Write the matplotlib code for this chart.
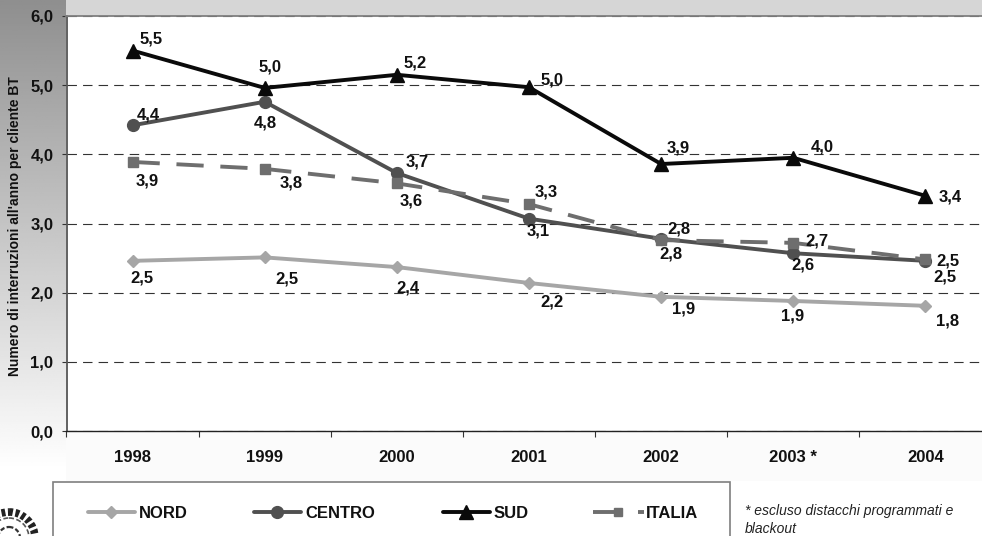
import numpy as np
import matplotlib
matplotlib.use("Agg")
import matplotlib.pyplot as plt
from matplotlib.patches import Rectangle, Circle

years = ["1998", "1999", "2000", "2001", "2002", "2003 *", "2004"]
nord = [2.46, 2.51, 2.37, 2.14, 1.94, 1.88, 1.81]
centro = [4.42, 4.76, 3.73, 3.07, 2.78, 2.57, 2.46]
sud = [5.50, 4.96, 5.15, 4.97, 3.86, 3.95, 3.40]
italia = [3.89, 3.79, 3.58, 3.28, 2.76, 2.72, 2.48]
nord_lab = ["2,5", "2,5", "2,4", "2,2", "1,9", "1,9", "1,8"]
centro_lab = ["4,4", "4,8", "3,7", "3,1", "2,8", "2,6", "2,5"]
sud_lab = ["5,5", "5,0", "5,2", "5,0", "3,9", "4,0", "3,4"]
italia_lab = ["3,9", "3,8", "3,6", "3,3", "2,8", "2,7", "2,5"]
nord_off = [(9, -17), (22, -22), (11, -21), (23, -19), (22, -12), (-1, -15), (22, -15)]
centro_off = [(16, 10), (1, -21), (20, 11), (9, -12), (18, 10), (10, -12), (23, 0)]
sud_off = [(19, 12), (5, 21), (18, 12), (23, 7), (17, 16), (29, 11), (25, -1)]
italia_off = [(15, -19), (26, -14), (14, -18), (17, 12), (10, -14), (24, 2), (20, -18)]

W, H = 982, 536
INK = "#111111"
plt.rcParams["font.family"] = ["Liberation Sans", "DejaVu Sans"]
plt.rcParams["font.weight"] = "bold"
fig = plt.figure(figsize=(W / 100, H / 100), dpi=100, facecolor="white")

bg = fig.add_axes([0, 0, 1, 1], zorder=0)
grad = np.clip(np.linspace(0, 536 / 470, 256), 0, 1).reshape(-1, 1)
bg.imshow(0.56 + 0.44 * grad, cmap="gray", vmin=0, vmax=1,
          extent=[0, 66, H, 0], aspect="auto")
bg.set_xlim(0, W)
bg.set_ylim(H, 0)
bg.axis("off")
bg.add_patch(Rectangle((66, 0), W - 66, 16, fc="#d6d6d6", ec="none"))
bg.add_patch(Rectangle((66, 431), W - 66, 50, fc="#fbfbfb", ec="none"))
bg.add_patch(Rectangle((0, 481), 53, 55, fc="white", ec="none"))
bg.add_patch(Rectangle((53.5, 481.5), 677, 60, fc="white", ec="#7f7f7f", lw=1.2))
bg.add_patch(Circle((9, 538), 26, fc="none", ec="#222222", lw=5.5, ls=(0, (0.5, 0.35))))
bg.add_patch(Circle((9, 538), 20, fc="none", ec="#555555", lw=1.2, ls=(0, (3, 1.5))))
bg.add_patch(Circle((9, 538), 11, fc="none", ec="#333333", lw=1.6, ls=(0, (2, 1))))

ax = fig.add_axes([66.5 / W, 1 - 431 / H, 925 / W, 415 / H], zorder=1)
ax.set_facecolor("white")
x = np.arange(7)
ax.set_xlim(-0.5, 6.5)
ax.set_ylim(0, 6)
ax.set_yticks(np.arange(0, 7))
ax.set_yticklabels([f"{v},0" for v in range(7)], fontsize=12, fontweight="bold", color=INK)
ax.set_xticks(np.arange(-0.5, 7, 1))
ax.set_xticklabels([])
ax.set_xticks(x, minor=True)
ax.set_xticklabels(years, minor=True, fontsize=12, fontweight="bold", color=INK)
ax.tick_params(axis="x", which="major", length=4.3, width=0.8, color="#333333")
ax.tick_params(axis="x", which="minor", length=0, pad=13.5)
ax.tick_params(axis="y", length=3.6, width=0.8, color="#333333", pad=5.8)
ax.yaxis.grid(True, color="#333333", lw=0.8, ls=(0, (8.5, 5.5)))
ax.set_axisbelow(True)
for s in ("top", "right"):
    ax.spines[s].set_visible(False)
ax.spines["left"].set_color("#555555")
ax.spines["left"].set_linewidth(1.3)
ax.spines["bottom"].set_color("#222222")
ax.spines["bottom"].set_linewidth(1)
ax.plot([-0.5, 6.5], [6, 6], color="#7f7f7f", lw=1.3, clip_on=False, zorder=3)

series = [
    (nord, nord_lab, nord_off, dict(color="#a6a6a6", lw=2.8, marker="D", ms=6.5, ls="-")),
    (centro, centro_lab, centro_off, dict(color="#505050", lw=2.8, marker="o", ms=8.5, ls="-")),
    (sud, sud_lab, sud_off, dict(color="#0a0a0a", lw=2.8, marker="^", ms=10, ls="-")),
    (italia, italia_lab, italia_off, dict(color="#6e6e6e", lw=2.8, marker="s", ms=7, ls=(0, (7, 4.3)))),
]
for vals, labs, offs, st in series:
    ax.plot(x, vals, **st, clip_on=False, dash_capstyle="butt")
for vals, labs, offs, st in series:
    for xi, v, lab, off in zip(x, vals, labs, offs):
        ax.annotate(lab, (xi, v), xytext=(off[0] * 0.72, off[1] * 0.72), textcoords="offset points",
                    ha="center", va="center", fontsize=12, fontweight="bold", color=INK, zorder=6)

fig.text(15 / W, 1 - 226 / H, "Numero di interruzioni all'anno per cliente BT", rotation=90,
         ha="center", va="center", fontsize=10, fontweight="bold", color=INK)

for x0, x1, tx, label, col, mk, ms in [
    (88, 135, 139, "NORD", "#a6a6a6", "D", 6.5),
    (254, 301, 305, "CENTRO", "#505050", "o", 8.5),
    (443, 490, 494, "SUD", "#0a0a0a", "^", 10),
]:
    bg.plot([x0, x1], [512, 512], color=col, lw=2.8, solid_capstyle="round")
    bg.plot([(x0 + x1) / 2], [512], color=col, marker=mk, ms=ms)
    bg.text(tx, 513, label, ha="left", va="center", fontsize=12, fontweight="bold", color=INK)
bg.plot([593, 622], [511.5, 511.5], color="#6e6e6e", lw=2.8, solid_capstyle="butt")
bg.plot([618], [511.5], color="#6e6e6e", marker="s", ms=6)
bg.plot([638, 644], [511.5, 511.5], color="#6e6e6e", lw=2.8, solid_capstyle="butt")
bg.text(646, 513, "ITALIA", ha="left", va="center", fontsize=12, fontweight="bold", color=INK)
bg.set_xlim(0, W)
bg.set_ylim(H, 0)

fig.text(745 / W, 1 - 511 / H, "* escluso distacchi programmati e", fontsize=10, style="italic",
         fontweight="normal", va="center", color="#222222")
fig.text(745 / W, 1 - 529 / H, "blackout", fontsize=10, style="italic",
         fontweight="normal", va="center", color="#222222")

fig.savefig("out.png", dpi=100, facecolor="white")
